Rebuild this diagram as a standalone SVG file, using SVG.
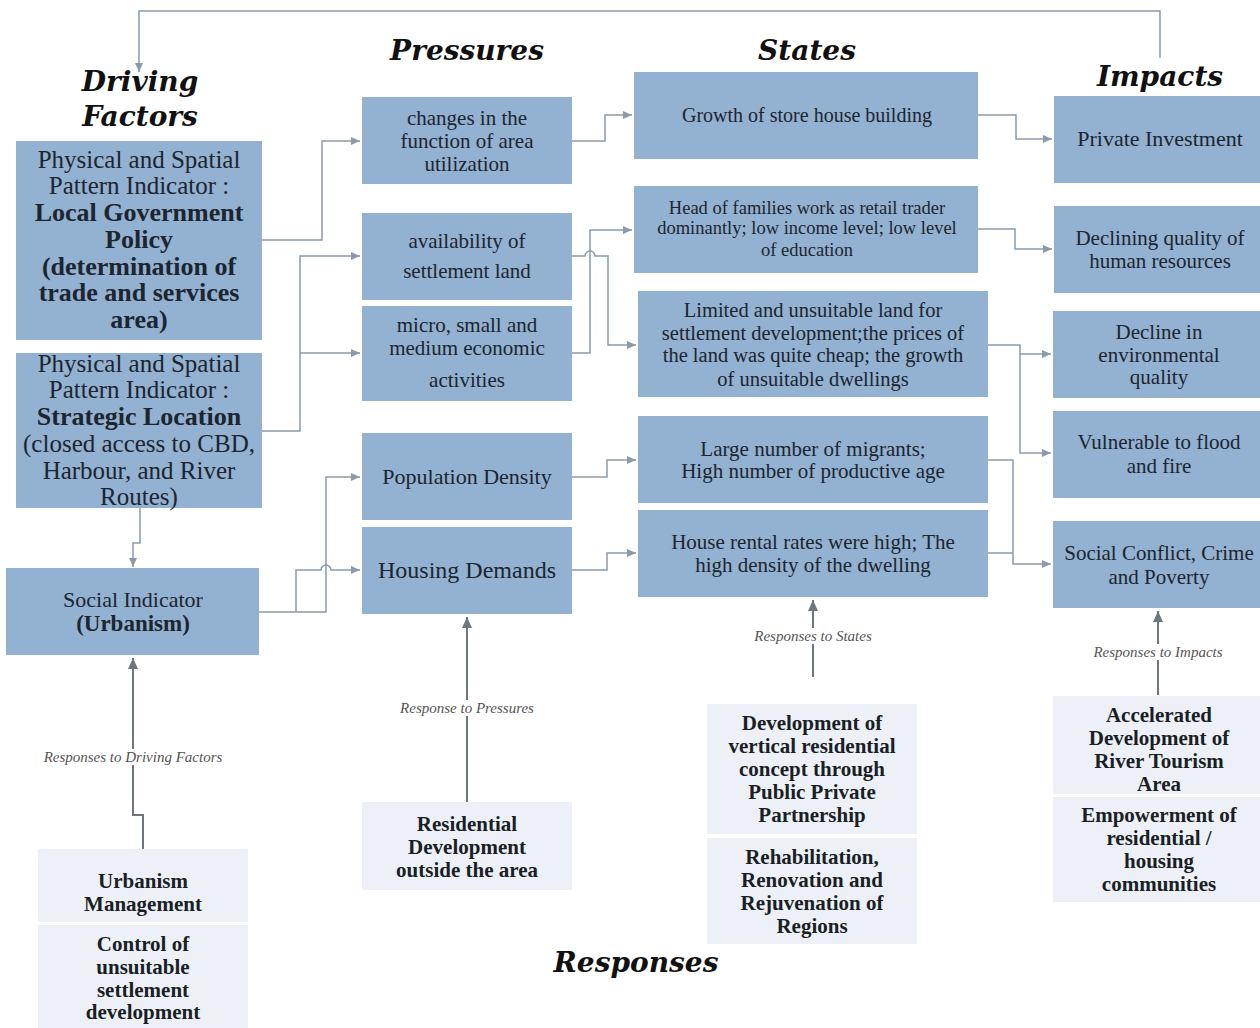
<svg xmlns="http://www.w3.org/2000/svg" width="1260" height="1028" viewBox="0 0 1260 1028">
<defs>
<style>
.box{fill:#93b1d0}
.rbox{fill:#edf1f7}
.t{font-family:"Liberation Serif",serif;fill:#1c2530;text-anchor:middle}
.b{font-weight:bold}
.rb{font-family:"Liberation Serif",serif;fill:#1a1f26;text-anchor:middle;font-weight:bold;font-size:21px}
.h{font-family:"DejaVu Serif",serif;font-weight:bold;font-style:italic;font-size:28px;text-anchor:middle;fill:#111}
.lbl{font-family:"Liberation Serif",serif;font-style:italic;font-size:15px;fill:#555;text-anchor:middle}
.c{fill:none;stroke:#8b9bab;stroke-width:1.5}
.rc{fill:none;stroke:#6e767f;stroke-width:2}
</style>
<marker id="a" markerUnits="userSpaceOnUse" markerWidth="10" markerHeight="8" refX="9" refY="4" orient="auto"><path d="M0,0 L9,4 L0,8 z" fill="#8b9bab"/></marker>
<marker id="ra" markerUnits="userSpaceOnUse" markerWidth="12" markerHeight="10" refX="11" refY="5" orient="auto"><path d="M0,0 L11,5 L0,10 z" fill="#6e767f"/></marker>
</defs>
<rect width="1260" height="1028" fill="#fff"/>

<g id="headers">
<text class="h" x="140" y="91">Driving</text>
<text class="h" x="140" y="126">Factors</text>
<text class="h" x="467" y="60">Pressures</text>
<text class="h" x="807" y="60">States</text>
<text class="h" x="1160" y="86">Impacts</text>
<text class="h" x="636" y="972">Responses</text>
</g>

<g id="connectors">
<path class="c" d="M1160,58 V11 H139 V72" marker-end="url(#a)"/>
<path class="c" d="M262,240 H322 V141 H360" marker-end="url(#a)"/>
<path class="c" d="M262,431 H300 V256 H360" marker-end="url(#a)"/>
<path class="c" d="M300,353 H360" marker-end="url(#a)"/>
<path class="c" d="M140,508 V543 H133 V567" marker-end="url(#a)"/>
<path class="c" d="M259,612 H326 V477 H360" marker-end="url(#a)"/>
<path class="c" d="M296,612 V570 H321 A5,5 0 0 1 331,570 H360" marker-end="url(#a)"/>
<path class="c" d="M572,141 H605 V115 H632" marker-end="url(#a)"/>
<path class="c" d="M572,256 H585 A5,5 0 0 1 595,256 H608 V345 H636" marker-end="url(#a)"/>
<path class="c" d="M572,353 H590 V230 H632" marker-end="url(#a)"/>
<path class="c" d="M572,477 H607 V460 H636" marker-end="url(#a)"/>
<path class="c" d="M572,570 H607 V553 H636" marker-end="url(#a)"/>
<path class="c" d="M978,115 H1016 V139 H1052" marker-end="url(#a)"/>
<path class="c" d="M978,229 H1015 V249 H1052" marker-end="url(#a)"/>
<path class="c" d="M988,345 H1020 V354 H1051" marker-end="url(#a)"/>
<path class="c" d="M1020,354 V453 H1051" marker-end="url(#a)"/>
<path class="c" d="M988,460 H1013 V564 H1051" marker-end="url(#a)"/>
<path class="c" d="M988,553 H1013"/>
<path class="rc" d="M143,849 V815 H133 V658" marker-end="url(#ra)"/>
<path class="rc" d="M467,802 V617" marker-end="url(#ra)"/>
<path class="rc" d="M813,677 V600" marker-end="url(#ra)"/>
<path class="rc" d="M1158,695 V611" marker-end="url(#ra)"/>
<rect x="40" y="749" width="186" height="16" fill="#fff"/>
<text class="lbl" x="133" y="762">Responses to  Driving Factors</text>
<rect x="398" y="700" width="138" height="16" fill="#fff"/>
<text class="lbl" x="467" y="713">Response to Pressures</text>
<rect x="750" y="628" width="126" height="16" fill="#fff"/>
<text class="lbl" x="813" y="641">Responses to  States</text>
<rect x="1091" y="644" width="134" height="16" fill="#fff"/>
<text class="lbl" x="1158" y="657">Responses to Impacts</text>
</g>

<g id="df1"><rect class="box" x="16" y="141" width="246" height="199"/>
<text class="t" font-size="25"><tspan x="139" y="168">Physical and Spatial</tspan><tspan x="139" y="194">Pattern Indicator :</tspan></text>
<text class="t b" font-size="26"><tspan x="139" y="221">Local Government</tspan><tspan x="139" y="247.8">Policy</tspan><tspan x="139" y="274.6">(determination of</tspan><tspan x="139" y="301.4">trade and services</tspan><tspan x="139" y="328.2">area)</tspan></text></g>

<g id="df2"><rect class="box" x="16" y="353" width="246" height="155"/>
<text class="t" font-size="25"><tspan x="139" y="372">Physical and Spatial</tspan><tspan x="139" y="398">Pattern Indicator :</tspan></text>
<text class="t b" font-size="26" x="139" y="425">Strategic Location</text>
<text class="t" font-size="25"><tspan x="139" y="452">(closed access to CBD,</tspan><tspan x="139" y="479">Harbour, and River</tspan><tspan x="139" y="505">Routes)</tspan></text></g>

<g id="social"><rect class="box" x="6" y="568" width="253" height="87"/>
<text class="t" font-size="22" x="133" y="607">Social Indicator</text>
<text class="t b" font-size="23" x="133" y="631">(Urbanism)</text></g>

<g id="p1"><rect class="box" x="362" y="97" width="210" height="87"/>
<text class="t" font-size="21"><tspan x="467" y="125">changes in the</tspan><tspan x="467" y="148">function of area</tspan><tspan x="467" y="171">utilization</tspan></text></g>
<g id="p2"><rect class="box" x="362" y="213" width="210" height="87"/>
<text class="t" font-size="21"><tspan x="467" y="248">availability of</tspan><tspan x="467" y="278">settlement land</tspan></text></g>
<g id="p3"><rect class="box" x="362" y="306" width="210" height="95"/>
<text class="t" font-size="21"><tspan x="467" y="332">micro, small and</tspan><tspan x="467" y="355">medium economic</tspan><tspan x="467" y="387">activities</tspan></text></g>
<g id="p4"><rect class="box" x="362" y="433" width="210" height="87"/>
<text class="t" font-size="22" x="467" y="484">Population Density</text></g>
<g id="p5"><rect class="box" x="362" y="527" width="210" height="87"/>
<text class="t" font-size="24" x="467" y="578">Housing Demands</text></g>

<g id="s1"><rect class="box" x="634" y="72" width="344" height="87"/>
<text class="t" font-size="20" x="807" y="122">Growth of store house building</text></g>
<g id="s2"><rect class="box" x="634" y="186" width="344" height="87"/>
<text class="t" font-size="18.5"><tspan x="807" y="214">Head of families work as retail trader</tspan><tspan x="807" y="234">dominantly; low income level; low level</tspan><tspan x="807" y="256">of education</tspan></text></g>
<g id="s3"><rect class="box" x="638" y="291" width="350" height="106"/>
<text class="t" font-size="20.5"><tspan x="813" y="317">Limited and unsuitable land for</tspan><tspan x="813" y="340">settlement development;the prices of</tspan><tspan x="813" y="362">the land was quite cheap; the growth</tspan><tspan x="813" y="386">of unsuitable dwellings</tspan></text></g>
<g id="s4"><rect class="box" x="638" y="416" width="350" height="87"/>
<text class="t" font-size="21"><tspan x="813" y="456">Large number of migrants;</tspan><tspan x="813" y="478">High number of productive age</tspan></text></g>
<g id="s5"><rect class="box" x="638" y="510" width="350" height="87"/>
<text class="t" font-size="21"><tspan x="813" y="549">House rental rates were high; The</tspan><tspan x="813" y="572">high density of the dwelling</tspan></text></g>

<g id="i1"><rect class="box" x="1054" y="96" width="206" height="87"/>
<text class="t" font-size="22" x="1160" y="146">Private Investment</text></g>
<g id="i2"><rect class="box" x="1054" y="206" width="206" height="87"/>
<text class="t" font-size="21"><tspan x="1160" y="245">Declining quality of</tspan><tspan x="1160" y="268">human resources</tspan></text></g>
<g id="i3"><rect class="box" x="1053" y="311" width="207" height="87"/>
<text class="t" font-size="21"><tspan x="1159" y="339">Decline in</tspan><tspan x="1159" y="362">environmental</tspan><tspan x="1159" y="384">quality</tspan></text></g>
<g id="i4"><rect class="box" x="1053" y="411" width="207" height="87"/>
<text class="t" font-size="21"><tspan x="1159" y="449">Vulnerable to flood</tspan><tspan x="1159" y="473">and fire</tspan></text></g>
<g id="i5"><rect class="box" x="1053" y="521" width="207" height="87"/>
<text class="t" font-size="21"><tspan x="1159" y="560">Social Conflict, Crime</tspan><tspan x="1159" y="584">and Poverty</tspan></text></g>

<g id="r1"><rect class="rbox" x="38" y="849" width="210" height="73"/>
<text class="rb"><tspan x="143" y="888">Urbanism</tspan><tspan x="143" y="911">Management</tspan></text></g>
<g id="r1b"><rect class="rbox" x="38" y="925" width="210" height="103"/>
<text class="rb"><tspan x="143" y="951">Control of</tspan><tspan x="143" y="974">unsuitable</tspan><tspan x="143" y="997">settlement</tspan><tspan x="143" y="1019">development</tspan></text></g>
<g id="r2"><rect class="rbox" x="362" y="802" width="210" height="88"/>
<text class="rb"><tspan x="467" y="831">Residential</tspan><tspan x="467" y="854">Development</tspan><tspan x="467" y="877">outside the area</tspan></text></g>
<g id="r3"><rect class="rbox" x="707" y="704" width="210" height="130"/>
<text class="rb"><tspan x="812" y="730">Development of</tspan><tspan x="812" y="753">vertical residential</tspan><tspan x="812" y="776">concept through</tspan><tspan x="812" y="799">Public Private</tspan><tspan x="812" y="822">Partnership</tspan></text></g>
<g id="r3b"><rect class="rbox" x="707" y="838" width="210" height="106"/>
<text class="rb"><tspan x="812" y="864">Rehabilitation,</tspan><tspan x="812" y="887">Renovation and</tspan><tspan x="812" y="910">Rejuvenation of</tspan><tspan x="812" y="933">Regions</tspan></text></g>
<g id="r4"><rect class="rbox" x="1053" y="696" width="207" height="98"/>
<text class="rb"><tspan x="1159" y="722">Accelerated</tspan><tspan x="1159" y="745">Development of</tspan><tspan x="1159" y="768">River Tourism</tspan><tspan x="1159" y="791">Area</tspan></text></g>
<g id="r4b"><rect class="rbox" x="1053" y="797" width="207" height="105"/>
<text class="rb"><tspan x="1159" y="822">Empowerment of</tspan><tspan x="1159" y="845">residential /</tspan><tspan x="1159" y="868">housing</tspan><tspan x="1159" y="891">communities</tspan></text></g>
</svg>
